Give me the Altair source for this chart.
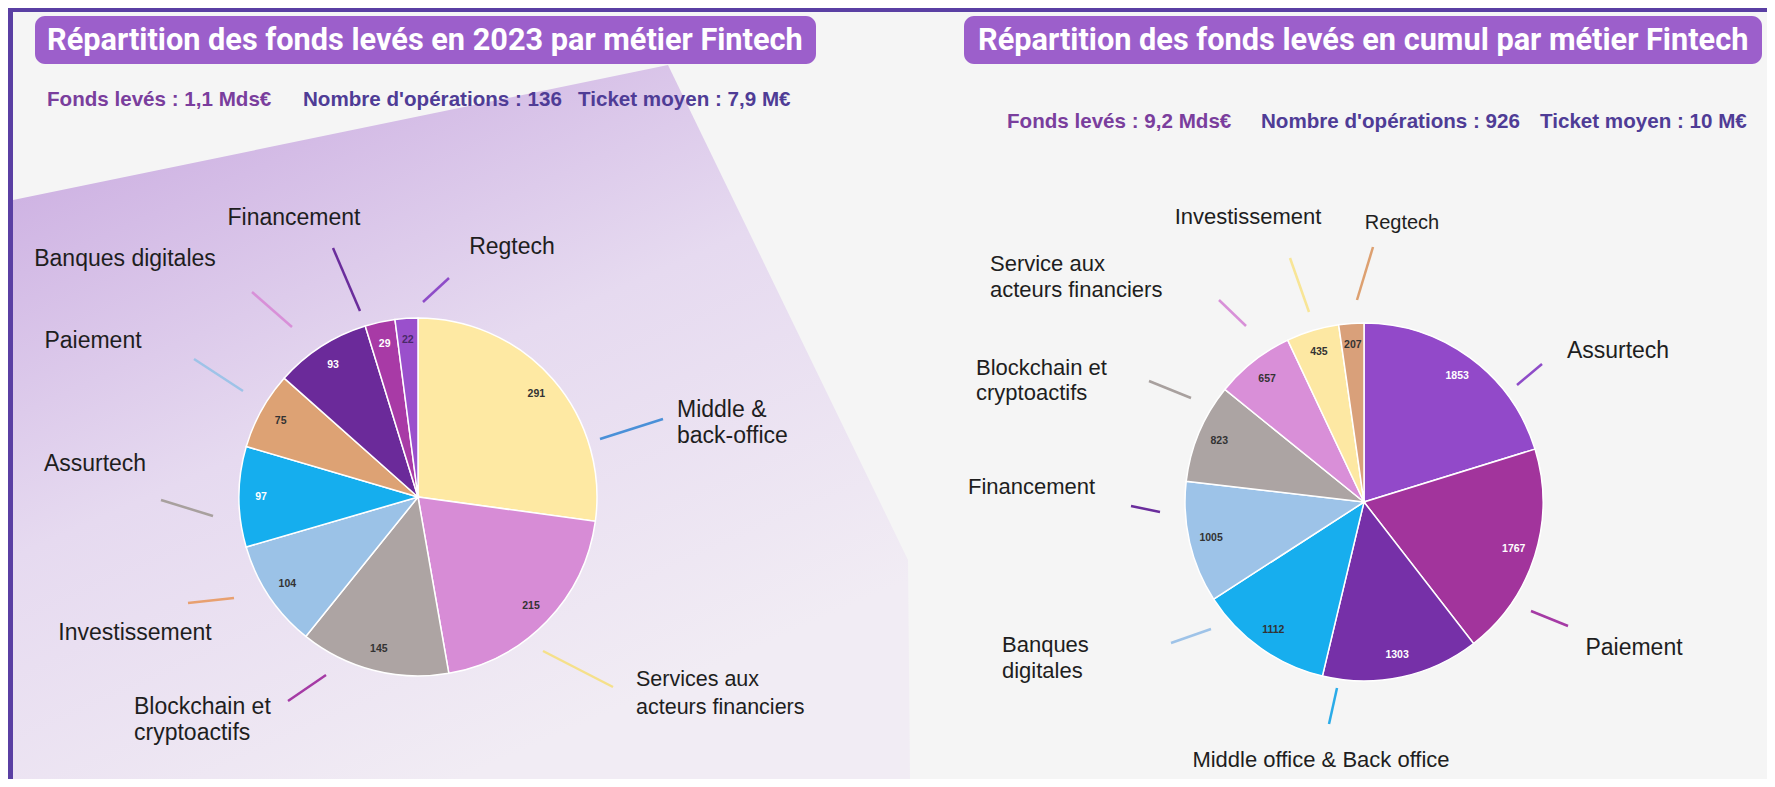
import altair as alt
import pandas as pd

# ------------------------------------------------------------------ data
left_title = "Répartition des fonds levés en 2023 par métier Fintech"
right_title = "Répartition des fonds levés en cumul par métier Fintech"
left_stats = ["Fonds levés : 1,1 Mds€", "Nombre d'opérations : 136", "Ticket moyen : 7,9 M€"]
right_stats = ["Fonds levés : 9,2 Mds€", "Nombre d'opérations : 926", "Ticket moyen : 10 M€"]

# slices clockwise from 12 o'clock
left_categories = ["Middle & back-office", "Services aux acteurs financiers",
                   "Blockchain et cryptoactifs", "Investissement", "Assurtech",
                   "Paiement", "Banques digitales", "Financement", "Regtech"]
left_values = [291, 215, 145, 104, 97, 75, 93, 29, 22]

right_categories = ["Assurtech", "Paiement", "Middle office & Back office",
                    "Banques digitales", "Financement", "Blockchain et cryptoactifs",
                    "Service aux acteurs financiers", "Investissement", "Regtech"]
right_values = [1853, 1767, 1303, 1112, 1005, 823, 657, 435, 207]

# ------------------------------------------------------------------ styles
left_colors = ["#FEE9A3", "#D78CD6", "#ADA4A3", "#9BC2E7", "#15AEEE",
               "#DDA274", "#6B2A9A", "#A83AA6", "#9A50CC"]
left_value_colors = ["#333333", "#333333", "#333333", "#333333", "#FFFFFF",
                     "#333333", "#FFFFFF", "#FFFFFF", "#4A2A6A"]
right_colors = ["#9249C9", "#A2349C", "#7630A8", "#17AEEE", "#9DC3E8",
                "#ACA4A3", "#D98FD8", "#FDE8A3", "#D9A07A"]
right_value_colors = ["#FFFFFF", "#FFFFFF", "#FFFFFF", "#333333", "#333333",
                      "#333333", "#333333", "#333333", "#333333"]

PILL = "#9C5FCB"
BORDER = "#5A3FA3"
STAT_COLORS = ["#7A3E9D", "#4F3C96", "#4F3C96"]

# ------------------------------------------------------------------ layout (page pixels)
W, H, OFF = 1759, 771, 8
PIE_R, LABEL_R = 179, 157
LEFT_C = (418, 497)
RIGHT_C = (1364, 502)

X = alt.Scale(domain=[OFF, OFF + W], nice=False, zero=False)
Y = alt.Scale(domain=[OFF, OFF + H], nice=False, zero=False, reverse=True)

pill_boxes = [(35, 816, 16, 64), (964, 1762, 16, 64)]
title_pos = [(47, 41), (978, 41)]
stat_x = [[47, 303, 578], [1007, 1261, 1540]]
stat_y = [100, 122]

# decorative tinted band behind the left pie (outline points, left to right)
band_x = [13, 668, 908, 910]
band_y = [200, 65, 560, OFF + H]

# category label rows: (text, x, y, align, size)
label_rows = [
    ("Regtech", 512, 247, "center", 23),
    ("Financement", 294, 218, "center", 23),
    ("Banques digitales", 125, 259, "center", 23),
    ("Paiement", 93, 341, "center", 23),
    ("Assurtech", 95, 464, "center", 23),
    ("Investissement", 135, 633, "center", 23),
    ("Blockchain et", 134, 707, "left", 23),
    ("cryptoactifs", 134, 733, "left", 23),
    ("Middle &", 677, 410, "left", 23),
    ("back-office", 677, 436, "left", 23),
    ("Services aux", 636, 680, "left", 21.5),
    ("acteurs financiers", 636, 708, "left", 21.5),
    ("Investissement", 1248, 217, "center", 22),
    ("Regtech", 1402, 223, "center", 20),
    ("Service aux", 990, 264, "left", 22),
    ("acteurs financiers", 990, 290, "left", 22),
    ("Blockchain et", 976, 368, "left", 22),
    ("cryptoactifs", 976, 393, "left", 22),
    ("Financement", 968, 487, "left", 22),
    ("Banques", 1002, 645, "left", 22),
    ("digitales", 1002, 671, "left", 22),
    ("Middle office & Back office", 1321, 760, "center", 22),
    ("Assurtech", 1618, 351, "center", 23),
    ("Paiement", 1634, 648, "center", 23),
]

# leader lines: (x1, y1, x2, y2, colour)
leader_rows = [
    (423, 302, 449, 278, "#8E4CC8"),
    (333, 248, 360, 311, "#6A2D9C"),
    (252, 292, 292, 327, "#D890D8"),
    (194, 359, 243, 391, "#9EC3E8"),
    (161, 500, 213, 516, "#A8A09E"),
    (188, 603, 234, 598, "#E8A070"),
    (288, 701, 326, 675, "#A53AA5"),
    (600, 439, 663, 419, "#4A90D8"),
    (543, 651, 613, 687, "#F5E08A"),
    (1219, 300, 1246, 326, "#D890D8"),
    (1290, 258, 1309, 312, "#F8E596"),
    (1373, 247, 1357, 300, "#DDA070"),
    (1149, 381, 1191, 398, "#A8A09E"),
    (1131, 506, 1160, 512, "#6A2D9C"),
    (1171, 643, 1211, 629, "#9EC3E8"),
    (1337, 688, 1329, 724, "#2AABE8"),
    (1517, 385, 1542, 364, "#8E4CC8"),
    (1531, 611, 1568, 626, "#A53AA5"),
]

# ------------------------------------------------------------------ tables
def ax(field):
    return alt.X(field, type="quantitative", scale=X, axis=None)


def ay(field):
    return alt.Y(field, type="quantitative", scale=Y, axis=None)


band = pd.DataFrame({"x": band_x, "y": band_y, "y2": [OFF + H] * len(band_x)})
band_layer = alt.Chart(band).mark_area(
    color=alt.Gradient(
        gradient="linear",
        stops=[alt.GradientStop(color="#CBADE1", offset=0),
               alt.GradientStop(color="#E6DAF0", offset=0.5),
               alt.GradientStop(color="#F1ECF4", offset=1)],
        x1=0, y1=0.1, x2=0.5, y2=1),
    interpolate="linear",
).encode(x=ax("x"), y=ay("y"), y2="y2")

borders = pd.DataFrame({"x": [OFF, OFF], "x2": [OFF + W, 13], "y": [OFF, OFF], "y2": [12, OFF + H]})
border_layer = alt.Chart(borders).mark_rect(color=BORDER).encode(
    x=ax("x"), x2="x2", y=ay("y"), y2="y2")

pills = pd.DataFrame(pill_boxes, columns=["x", "x2", "y", "y2"])
pill_layer = alt.Chart(pills).mark_rect(color=PILL, cornerRadius=10).encode(
    x=ax("x"), x2="x2", y=ay("y"), y2="y2")

titles = pd.DataFrame({"text": [left_title, right_title],
                       "x": [p[0] for p in title_pos], "y": [p[1] for p in title_pos]})
title_layer = alt.Chart(titles).mark_text(
    font="Roboto", fontWeight="bold", fontSize=30.7, color="white",
    align="left", baseline="middle").encode(x=ax("x"), y=ay("y"), text="text:N")

stat_df = pd.DataFrame({
    "text": left_stats + right_stats,
    "x": stat_x[0] + stat_x[1],
    "y": [stat_y[0]] * 3 + [stat_y[1]] * 3,
    "c": STAT_COLORS + STAT_COLORS,
})
stat_layer = alt.Chart(stat_df).mark_text(
    font="Liberation Sans", fontWeight="bold", fontSize=20.6,
    align="left", baseline="middle").encode(
    x=ax("x"), y=ay("y"), text="text:N", color=alt.Color("c:N", scale=None))


def pie_layers(cats, vals, colors, tcolors, center):
    df = pd.DataFrame({"cat": cats, "value": vals, "idx": list(range(len(vals))),
                       "fill": colors, "tc": tcolors})
    base = alt.Chart(df).encode(
        theta=alt.Theta("value:Q", stack=True),
        order=alt.Order("idx:Q", sort="ascending"),
        x=alt.value(center[0] - OFF),
        y=alt.value(center[1] - OFF),
    )
    arcs = base.mark_arc(outerRadius=PIE_R, stroke="white", strokeWidth=1.5).encode(
        color=alt.Color("fill:N", scale=None))
    txt = base.mark_text(radius=LABEL_R, font="Liberation Sans", fontWeight="bold",
                         fontSize=10.5, baseline="middle", align="center").encode(
        text="value:Q", color=alt.Color("tc:N", scale=None))
    return [arcs, txt]


leaders = pd.DataFrame(leader_rows, columns=["x", "y", "x2", "y2", "c"])
leader_layer = alt.Chart(leaders).mark_rule(strokeWidth=2.5).encode(
    x=ax("x"), y=ay("y"), x2="x2", y2="y2", color=alt.Color("c:N", scale=None))

labels = pd.DataFrame(label_rows, columns=["text", "x", "y", "align", "size"])
label_layers = []
for (al, sz), grp in labels.groupby(["align", "size"]):
    label_layers.append(
        alt.Chart(grp).mark_text(font="Liberation Sans", fontSize=float(sz), color="#1E1E1E",
                                 align=al, baseline="middle").encode(
            x=ax("x"), y=ay("y"), text="text:N"))

chart = alt.layer(
    band_layer, border_layer, pill_layer, title_layer, stat_layer,
    *pie_layers(left_categories, left_values, left_colors, left_value_colors, LEFT_C),
    *pie_layers(right_categories, right_values, right_colors, right_value_colors, RIGHT_C),
    leader_layer, *label_layers,
).resolve_scale(theta="independent").properties(
    width=W, height=H, padding=0, background="#F5F5F5",
    autosize=alt.AutoSizeParams(type="none"),
).configure_view(stroke=None)

chart.save("out.html", embed_options={"renderer": "svg", "actions": False})
